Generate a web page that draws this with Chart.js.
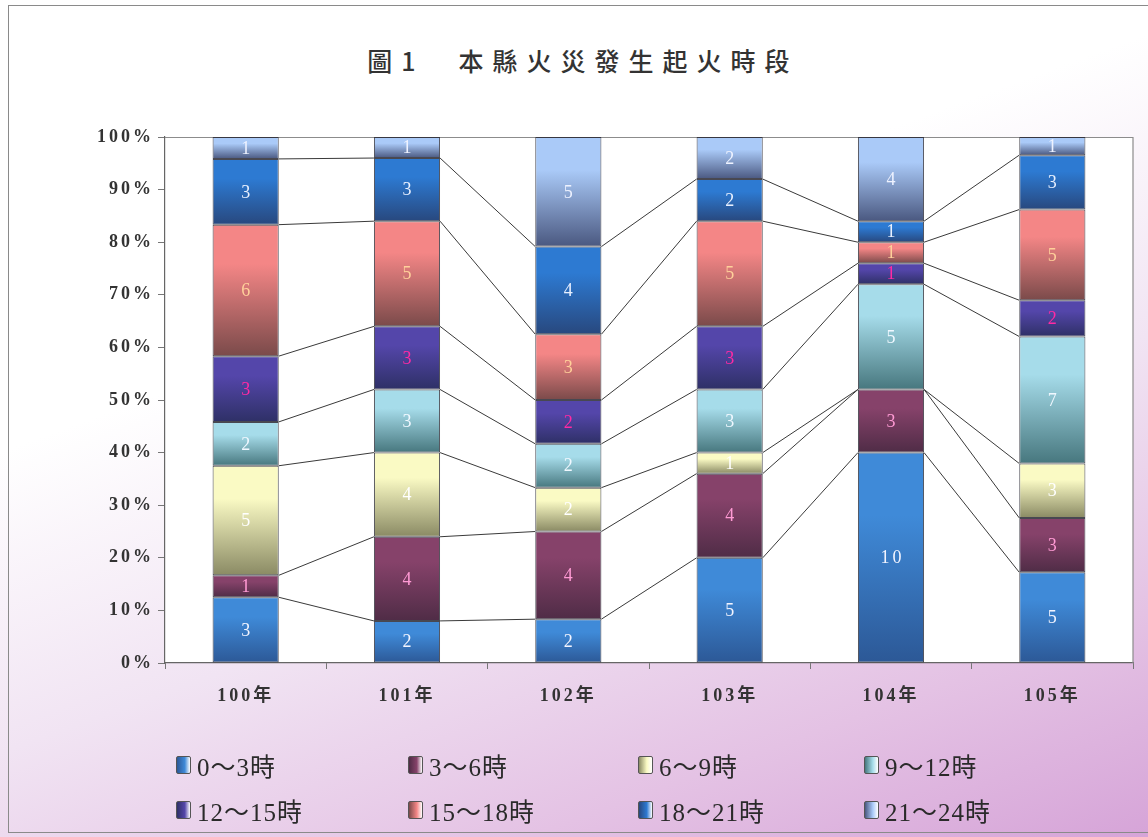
<!DOCTYPE html>
<html>
<head>
<meta charset="utf-8">
<script src="https://cdn.jsdelivr.net/npm/chart.js@4"></script>
<style>
  html, body { margin: 0; padding: 0; }
  body {
    width: 1148px; height: 837px; position: relative; overflow: hidden;
    background: linear-gradient(160deg, #ffffff 0%, #ffffff 36%, #f1e4f3 60%, #e4c2e4 82%, #d6a4d8 100%);
  }
  #frame { position: absolute; left: 8px; top: 5px; width: 1150px; height: 828px; border: 1px solid #8a8a8a; box-sizing: border-box; }
  #title {
    position: absolute; left: 0; width: 1148px; top: 42px; text-align: center;
    font-family: "Noto Sans CJK TC", serif; font-size: 25px; font-weight: 500;
    letter-spacing: 9px; padding-left: 18px; box-sizing: border-box; color: #333;
  }
  #chartBox { position: absolute; left: 0; top: 0; width: 1148px; height: 837px; }
  #legend { position: absolute; left: 0; top: 0; width: 1148px; height: 837px; pointer-events: none; }
  .item { position: absolute; display: flex; align-items: center; font-family: "Liberation Serif", "Noto Sans CJK TC", serif; font-size: 25px; letter-spacing: 1px; color: #2a2a2a; }
  .box { width: 13px; height: 16px; margin-right: 6px; border: 1px solid #555; border-radius: 2px; }
</style>
</head>
<body>
<div id="frame"></div>
<div id="title">圖1　本縣火災發生起火時段</div>
<div id="chartBox"><canvas id="chart" width="1148" height="837"></canvas></div>
<div id="legend"></div>
<script>
// categories and counts per time slot
var years = ["100年", "101年", "102年", "103年", "104年", "105年"];
var slots = ["0～3時", "3～6時", "6～9時", "9～12時", "12～15時", "15～18時", "18～21時", "21～24時"];
var h0_3   = [3, 2, 2, 5, 10, 5];
var h3_6   = [1, 4, 4, 4, 3, 3];
var h6_9   = [5, 4, 2, 1, 0, 3];
var h9_12  = [2, 3, 2, 3, 5, 7];
var h12_15 = [3, 3, 2, 3, 1, 2];
var h15_18 = [6, 5, 3, 5, 1, 5];
var h18_21 = [3, 3, 4, 2, 1, 3];
var h21_24 = [1, 1, 5, 2, 4, 1];
var yTicks = [0, 10, 20, 30, 40, 50, 60, 70, 80, 90, 100];

var counts = [h0_3, h3_6, h6_9, h9_12, h12_15, h15_18, h18_21, h21_24];
// top / bottom colour of each segment gradient, and label colour
var topCol = ["#3f8ad8", "#86426a", "#fafac4", "#a6dcea", "#5446aa", "#f48686", "#2d7ad2", "#aacaf8"];
var botCol = ["#2c5896", "#4f2c46", "#8a8a64", "#47777e", "#2e3066", "#7a4a4a", "#28487e", "#4a5880"];
var lblCol = ["#f2f4ff", "#ff9ad4", "#ffffff", "#f0f8ff", "#ff2aa4", "#ffd09a", "#e8f0ff", "#eef2ff"];

var totals = years.map(function(y, i) {
  var s = 0;
  for (var k = 0; k < counts.length; k++) s += counts[k][i];
  return s;
});

function segGradient(ctx, k) {
  var chart = ctx.chart;
  var area = chart.chartArea;
  if (!area || ctx.type !== 'data') return topCol[k];
  var yScale = chart.scales.y;
  var i = ctx.dataIndex;
  var start = 0;
  for (var j = 0; j < k; j++) start += counts[j][i] / totals[i] * 100;
  var end = start + counts[k][i] / totals[i] * 100;
  var y1 = yScale.getPixelForValue(end), y2 = yScale.getPixelForValue(start);
  if (y2 - y1 < 1) y2 = y1 + 1;
  var g = chart.ctx.createLinearGradient(0, y1, 0, y2);
  g.addColorStop(0, topCol[k]);
  g.addColorStop(0.3, topCol[k]);
  g.addColorStop(1, botCol[k]);
  return g;
}

var datasets = slots.map(function(name, k) {
  return {
    label: name,
    data: counts[k].map(function(v, i) { return v / totals[i] * 100; }),
    backgroundColor: function(ctx) { return segGradient(ctx, k); },
    borderColor: "rgba(40,40,50,0.85)",
    borderWidth: 1,
    borderSkipped: false,
    categoryPercentage: 1,
    barPercentage: 0.41
  };
});

var plotFrame = {
  id: 'plotFrame',
  beforeDraw: function(chart) {
    // spaced-out glyphs like the original axis text
    chart.ctx.letterSpacing = "3px";
  },
  beforeDatasetsDraw: function(chart) {
    var a = chart.chartArea, c = chart.ctx;
    c.save();
    c.strokeStyle = "#8c8c8c";
    c.lineWidth = 1.2;
    c.beginPath();
    c.moveTo(a.left, a.top + 0.5); c.lineTo(a.right, a.top + 0.5); c.lineTo(a.right, a.bottom);
    c.stroke();
    // series lines between bars
    c.strokeStyle = "#3a3a3a";
    c.lineWidth = 1;
    for (var k = 0; k < slots.length - 1; k++) {
      var els = chart.getDatasetMeta(k).data;
      for (var i = 0; i < els.length - 1; i++) {
        var a1 = els[i], b1 = els[i + 1];
        c.beginPath();
        c.moveTo(a1.x + a1.width / 2, a1.y);
        c.lineTo(b1.x - b1.width / 2, b1.y);
        c.stroke();
      }
    }
    c.restore();
  },
  afterDatasetsDraw: function(chart) {
    var c = chart.ctx;
    c.save();
    c.font = "18px 'Liberation Serif', serif";
    c.letterSpacing = "3px";
    c.textAlign = "center";
    c.textBaseline = "middle";
    for (var k = 0; k < slots.length; k++) {
      var els = chart.getDatasetMeta(k).data;
      for (var i = 0; i < els.length; i++) {
        var v = counts[k][i];
        if (!v) continue;
        var el = els[i];
        c.fillStyle = lblCol[k];
        c.fillText(String(v), el.x + 1.5, (el.y + el.base) / 2 + 1);
      }
    }
    c.restore();
  }
};

var chartBg = {
  id: 'chartBg',
  beforeDraw: function(chart) {
    var a = chart.chartArea, c = chart.ctx;
    c.save();
    c.fillStyle = "#ffffff";
    c.fillRect(a.left, a.top, a.right - a.left, a.bottom - a.top);
    c.restore();
  }
};

new Chart(document.getElementById("chart"), {
  type: 'bar',
  data: { labels: years, datasets: datasets },
  options: {
    responsive: false,
    animation: false,
    layout: { padding: { top: 137, right: 15, left: 0, bottom: 0 } },
    plugins: { legend: { display: false }, title: { display: false }, tooltip: { enabled: false } },
    scales: {
      x: {
        stacked: true,
        grid: { display: true, drawOnChartArea: false, drawTicks: true, tickLength: 6, color: "#777", offset: true },
        border: { color: "#666", width: 1.2 },
        ticks: { color: "#333", padding: 17, font: { family: "'Liberation Serif', 'Noto Sans CJK TC', serif", size: 18, weight: 'bold' } },
        afterFit: function(s) { s.height = 174; }
      },
      y: {
        stacked: true,
        min: 0, max: 100,
        afterBuildTicks: function(s) { s.ticks = yTicks.map(function(v) { return { value: v }; }); },
        grid: { display: true, drawOnChartArea: false, drawTicks: true, tickLength: 7, color: "#777" },
        border: { color: "#666", width: 1.2 },
        ticks: {
          color: "#333", padding: 4,
          font: { family: "'Liberation Serif', serif", size: 18, weight: 'bold' },
          callback: function(v) { return v + "%"; }
        },
        afterFit: function(s) { s.width = 165; }
      }
    }
  },
  plugins: [chartBg, plotFrame]
});

// legend, 4 per row like the original
var legendX = [176, 408, 638, 864];
var legendY = [763, 808];
var lg = document.getElementById("legend");
slots.forEach(function(name, k) {
  var d = document.createElement("div");
  d.className = "item";
  d.style.left = legendX[k % 4] + "px";
  d.style.top = (legendY[Math.floor(k / 4)] - 16) + "px";
  var b = document.createElement("span");
  b.className = "box";
  b.style.background = "linear-gradient(to right, " + botCol[k] + ", " + topCol[k] + " 60%, #ffffff)";
  var t = document.createElement("span");
  t.textContent = name;
  d.appendChild(b); d.appendChild(t);
  lg.appendChild(d);
});
</script>
</body>
</html>
